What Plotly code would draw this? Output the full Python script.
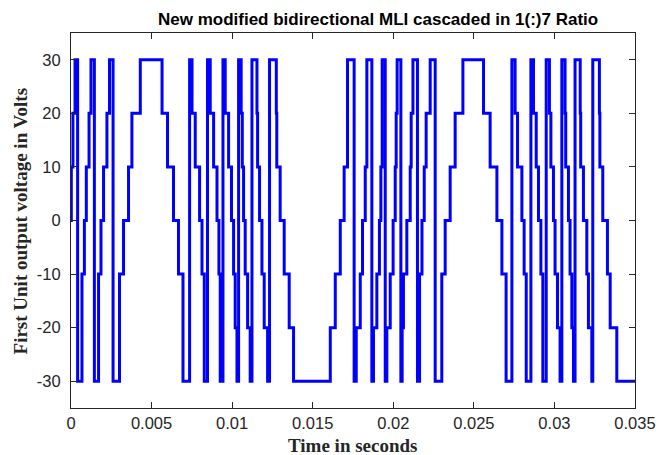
import plotly.graph_objects as go

# Switching instants (s) and the output level (V) held from each instant on
time_s = [
    0.0, 0.00002, 0.00012, 0.00025, 0.00041, 0.00068, 0.00083, 0.00095, 0.00112, 0.00124,
    0.00145, 0.00171, 0.00186, 0.00202, 0.00223, 0.00239, 0.00261, 0.00301, 0.00326, 0.00357,
    0.00378, 0.00430, 0.00565, 0.00599, 0.00636, 0.00667, 0.00695,
    0.00736, 0.00751, 0.00771, 0.00798, 0.00813, 0.00827,
    0.00847, 0.00864, 0.00885, 0.00906, 0.00918, 0.00926,
    0.00943, 0.00957, 0.00978, 0.00996, 0.01009, 0.01019, 0.01030,
    0.01040, 0.01056, 0.01063, 0.01071, 0.01081, 0.01096, 0.01112,
    0.01123, 0.01154, 0.01158, 0.01170, 0.01185, 0.01199, 0.01220,
    0.01232, 0.01274, 0.01277, 0.01298, 0.01323, 0.01354, 0.01381,
    0.01609, 0.01640, 0.01671, 0.01695, 0.01716, 0.01757,
    0.01770, 0.01795, 0.01809, 0.01826, 0.01836, 0.01867,
    0.01877, 0.01898, 0.01914, 0.01923, 0.01931, 0.01950,
    0.01960, 0.01981, 0.01999, 0.02012, 0.02018, 0.02024, 0.02047,
    0.02055, 0.02063, 0.02084, 0.02105, 0.02111, 0.02122, 0.02150,
    0.02163, 0.02178, 0.02192, 0.02204, 0.02229, 0.02260,
    0.02301, 0.02322, 0.02353, 0.02384, 0.02432, 0.02560, 0.02601, 0.02643, 0.02674, 0.02700,
    0.02736, 0.02756, 0.02771, 0.02798, 0.02812, 0.02825,
    0.02854, 0.02870, 0.02887, 0.02901, 0.02916, 0.02928,
    0.02949, 0.02969, 0.02978, 0.02994, 0.03004, 0.03019, 0.03035,
    0.03046, 0.03066, 0.03070, 0.03087, 0.03097, 0.03108, 0.03118,
    0.03128, 0.03160, 0.03163, 0.03180, 0.03201, 0.03211, 0.03232,
    0.03238, 0.03279, 0.03282, 0.03300, 0.03329, 0.03346, 0.03387,
    0.03500,
]
volts = [
    0, 10, 20, 30, -30, -10, 0, 10, 20, 30,
    -30, -10, 0, 10, 20, 30, -30, -10, 0, 10,
    20, 30, 20, 10, 0, -10, -30,
    30, 20, 10, 0, -10, -30,
    30, 20, 10, 0, -10, -30,
    30, 20, 10, 0, -10, -20, -30,
    30, 20, 10, 0, -10, -20, -30,
    30, 20, 10, 0, -10, -20, -30,
    30, 20, 10, 0, -10, -20, -30,
    -20, -10, 0, 10, 30, -30,
    -20, -10, 0, 10, 30, -30,
    -20, -10, 0, 10, 30, -30,
    -20, -10, 0, 10, 20, 30, -30,
    -20, -10, 0, 10, 20, 30, -30,
    -10, 0, 10, 20, 30, -30,
    -10, 0, 10, 20, 30, 20, 10, 0, -10, -30,
    30, 20, 10, 0, -10, -30,
    30, 20, 10, 0, -10, -30,
    30, 20, 10, 0, -10, -20, -30,
    30, 20, 10, 0, -10, -20, -30,
    30, 20, 10, 0, -10, -20, -30,
    30, 20, 10, 0, -10, -20, -30,
    -30,
]

x_ticks = [0, 0.005, 0.01, 0.015, 0.02, 0.025, 0.03, 0.035]
x_tick_labels = ["0", "0.005", "0.01", "0.015", "0.02", "0.025", "0.03", "0.035"]
y_ticks = [-30, -20, -10, 0, 10, 20, 30]
y_tick_labels = ["-30", "-20", "-10", "0", "10", "20", "30"]

title_text = "New modified bidirectional MLI cascaded in 1(:)7 Ratio"
x_label = "Time in seconds"
y_label = "First Unit output voltage in Volts"

axis_color = "#262626"
sans = "Liberation Sans, Arial, sans-serif"
serif = "Liberation Serif, Times New Roman, serif"

fig = go.Figure()
fig.add_trace(go.Scatter(
    x=time_s, y=volts, mode="lines", line_shape="hv",
    line=dict(color="#0000FF", width=3), showlegend=False,
))

axis_common = dict(
    showline=True, linecolor=axis_color, linewidth=1.2, mirror="ticks",
    ticks="inside", ticklen=6, tickwidth=1, tickcolor=axis_color,
    showgrid=False, zeroline=False,
    tickfont=dict(family=sans, size=16.5, color=axis_color),
)
fig.update_xaxes(range=[0, 0.035], tickvals=x_ticks, ticktext=x_tick_labels,
                 ticklabelstandoff=0, **axis_common)
fig.update_yaxes(range=[-35, 35], tickvals=y_ticks, ticktext=y_tick_labels,
                 ticklabelstandoff=6, **axis_common)

fig.update_layout(
    width=670, height=455,
    margin=dict(l=71, r=35, t=33, b=47),
    paper_bgcolor="white", plot_bgcolor="white",
    annotations=[
        dict(text="<b>" + title_text + "</b>", xref="paper", yref="paper",
             x=0.544, y=1.037, xanchor="center", yanchor="middle", showarrow=False,
             font=dict(family=sans, size=17, color="#000000")),
        dict(text="<b>" + x_label + "</b>", xref="paper", yref="paper",
             x=0.5, y=-0.1, xanchor="center", yanchor="middle", showarrow=False,
             font=dict(family=serif, size=19, color=axis_color)),
        dict(text="<b>" + y_label + "</b>", xref="paper", yref="paper",
             x=-0.0887, y=0.5, xanchor="center", yanchor="middle", showarrow=False,
             textangle=-90,
             font=dict(family=serif, size=19, color=axis_color)),
    ],
)

fig.write_html("out.html")
